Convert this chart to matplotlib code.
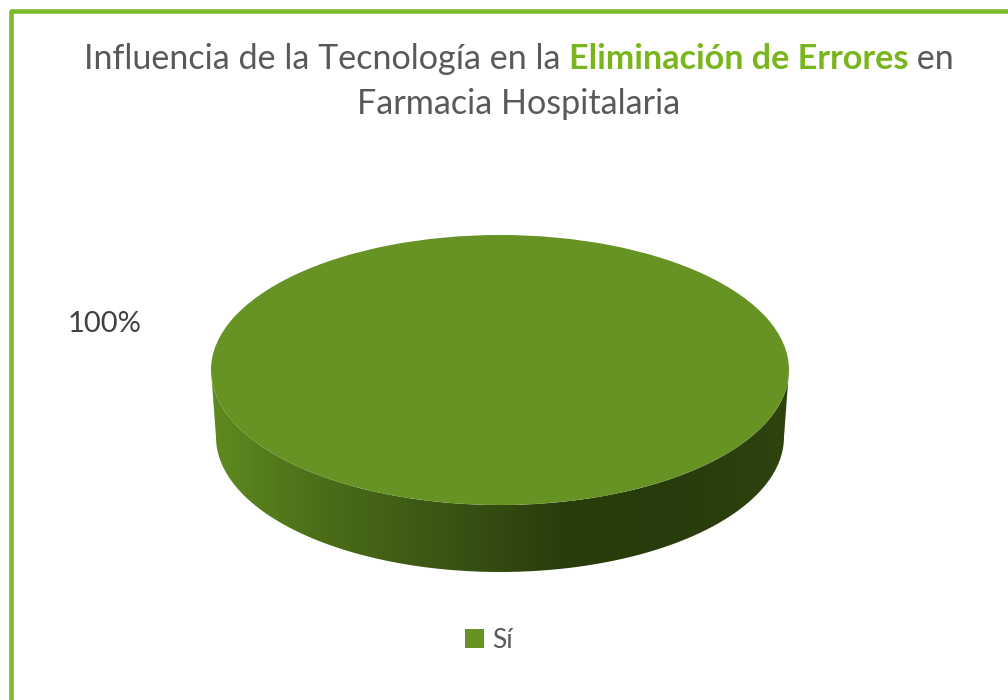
import numpy as np
import matplotlib.pyplot as plt
from matplotlib.path import Path
from matplotlib.patches import PathPatch
from matplotlib.transforms import Affine2D
from matplotlib.colors import LinearSegmentedColormap

plt.rcParams['font.family'] = ['Lato', 'DejaVu Sans']

# datos
labels = ["Sí"]
values = [100]
slice_colors = ["#669323"]

title_parts = [("Influencia de la Tecnología en la ", "#595959", "normal"),
               ("Eliminación de Errores", "#7ab51d", "bold"),
               (" en", "#595959", "normal")]
title_line2 = "Farmacia Hospitalaria"

fig = plt.figure(figsize=(10.08, 7), dpi=100)
ax = fig.add_axes([0, 0, 1, 1])

# geometria del "pastel 3D" en pixeles
cx, cy, rx, ry = 500, 370, 289, 135
depth = 67
rxb = 284

# lateral con degradado
t = np.linspace(0, np.pi, 200)
xs = np.concatenate([cx + rx * np.cos(t), cx + rxb * np.cos(t[::-1])])
ys = np.concatenate([cy + ry * np.sin(t), cy + depth + ry * np.sin(t[::-1])])
band = PathPatch(Path(np.column_stack([xs, ys])), facecolor='none', edgecolor='none')
ax.add_patch(band)
side_cmap = LinearSegmentedColormap.from_list(
    'side', ['#5f8a1f', '#4a6c18', '#3a5514', '#2a3e0d', '#283b0c', '#2e440f'])
grad = np.linspace(0, 1, 256).reshape(1, -1)
img = ax.imshow(grad, cmap=side_cmap, extent=(cx - rx, cx + rx, cy + depth + ry, cy),
                aspect='auto', interpolation='bilinear')
img.set_clip_path(band)

# cara superior
wedges, _ = ax.pie(values, colors=slice_colors, radius=rx, center=(cx, cy),
                   startangle=90, counterclock=False, wedgeprops=dict(linewidth=0))
squash = Affine2D().translate(-cx, -cy).scale(1, ry / rx).translate(cx, cy)
for w in wedges:
    w.set_transform(squash + ax.transData)

ax.set_xlim(0, 1008)
ax.set_ylim(700, 0)
ax.set_aspect('auto')
ax.axis('off')

# borde verde
ax.plot([11, 11, 1015], [710, 11, 11], color='#7dba2f', lw=3.3,
        solid_joinstyle='round', clip_on=False)

# etiqueta de porcentaje
pct = values[0] / sum(values) * 100
ax.text(105, 324, f"{pct:.0f}%", fontsize=21, color='#404040',
        ha='center', va='center')

# titulo con colores mezclados
fig.canvas.draw()
renderer = fig.canvas.get_renderer()
fs = 24.6
pieces = []
for s, c, wgt in title_parts:
    tx = ax.text(0, 59, s, fontsize=fs, color=c, fontweight=wgt, va='center', ha='left')
    pieces.append(tx)
widths = [p.get_window_extent(renderer).width for p in pieces]
x0 = 519 - sum(widths) / 2
for p, wd in zip(pieces, widths):
    p.set_x(x0)
    x0 += wd
ax.text(519, 104, title_line2, fontsize=fs, color='#595959', ha='center', va='center')

# leyenda
ax.legend(wedges, labels, loc='center', bbox_to_anchor=(0.485, 1 - 640 / 700),
          frameon=False, fontsize=19, labelcolor='#595959',
          handlelength=0.7, handleheight=0.7, handletextpad=0.3)

fig.savefig('out.png', dpi=100)
